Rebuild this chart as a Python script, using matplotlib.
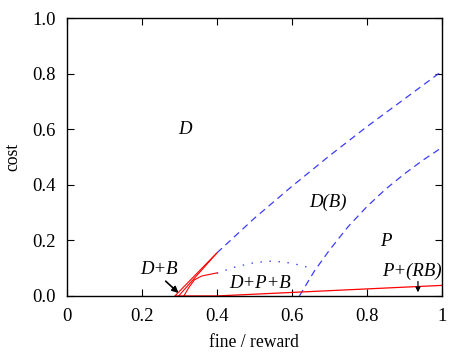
import matplotlib
matplotlib.use('Agg')
import matplotlib.pyplot as plt

# boundary curves
upper_x = [0.40, 0.50, 0.60, 0.70, 0.80, 0.90, 1.00]
upper_y = [0.155, 0.28, 0.395, 0.505, 0.61, 0.71, 0.81]

lower_x = [0.62, 0.66, 0.70, 0.75, 0.80, 0.85, 0.90, 0.95, 1.00]
lower_y = [0.0, 0.09, 0.165, 0.25, 0.322, 0.385, 0.44, 0.49, 0.535]

dot_x = [0.40, 0.45, 0.50, 0.55, 0.60, 0.64, 0.657]
dot_y = [0.082, 0.105, 0.12, 0.126, 0.118, 0.104, 0.094]

redA_x = [0.288, 0.40]
redA_y = [0.0, 0.155]
redB_x = [0.298, 0.398]
redB_y = [0.0, 0.152]
redC_x = [0.312, 0.325, 0.34, 0.36, 0.40]
redC_y = [0.0, 0.03, 0.058, 0.072, 0.083]
bottom_x = [0.29, 0.40, 1.00]
bottom_y = [0.0, 0.0, 0.038]

plt.rcParams['font.family'] = ['Liberation Serif', 'DejaVu Serif']

fig = plt.figure(figsize=(4.58, 3.54), dpi=100)
ax = fig.add_axes([0.146, 0.164, 0.819, 0.784])

blue = '#3c3cff'
ax.plot(upper_x, upper_y, color=blue, lw=0.9, dashes=(5.5, 3.8))
ax.plot(lower_x, lower_y, color=blue, lw=0.9, dashes=(5.5, 3.8))
ax.plot(dot_x, dot_y, color=blue, lw=1.0, dashes=(1, 5.5))

ax.plot(redA_x, redA_y, color='red', lw=0.8)
ax.plot(redB_x, redB_y, color='red', lw=0.8)
ax.plot(redC_x, redC_y, color='red', lw=0.8)
ax.plot(bottom_x, bottom_y, color='red', lw=0.9)

fs = 13.5
ax.text(0.315, 0.598, 'D', style='italic', fontsize=fs, ha='center', va='center')
ax.text(0.696, 0.339, 'D(B)', style='italic', fontsize=fs, ha='center', va='center')
ax.text(0.85, 0.195, 'P', style='italic', fontsize=fs, ha='center', va='center')
ax.text(0.245, 0.094, 'D+B', style='italic', fontsize=fs, ha='center', va='center')
ax.text(0.515, 0.046, 'D+P+B', style='italic', fontsize=fs, ha='center', va='center')
ax.text(0.92, 0.088, 'P+(RB)', style='italic', fontsize=fs, ha='center', va='center')

ax.annotate('', xy=(0.303, 0.004), xytext=(0.258, 0.06),
            arrowprops=dict(arrowstyle='-|>', color='black', lw=1.2,
                            mutation_scale=9))
ax.annotate('', xy=(0.936, 0.003), xytext=(0.936, 0.062),
            arrowprops=dict(arrowstyle='-|>', color='black', lw=0.9,
                            mutation_scale=7))

ax.set_xlim(0, 1)
ax.set_ylim(0, 1)
ax.set_xticks([0, 0.2, 0.4, 0.6, 0.8, 1])
ax.set_xticklabels(['0', '0.2', '0.4', '0.6', '0.8', '1'])
ax.set_yticks([0, 0.2, 0.4, 0.6, 0.8, 1.0])
ax.set_yticklabels(['0.0', '0.2', '0.4', '0.6', '0.8', '1.0'])
ax.tick_params(direction='in', top=True, right=True, labelsize=13.5,
               length=5, width=0.8)
ax.tick_params(axis='x', pad=9)
ax.tick_params(axis='y', pad=8)
for s in ax.spines.values():
    s.set_linewidth(1.0)

ax.set_xlabel('fine / reward', fontsize=12.7, labelpad=6)
ax.set_ylabel('cost', fontsize=12.7, labelpad=8)

fig.savefig('out.png', dpi=100)
